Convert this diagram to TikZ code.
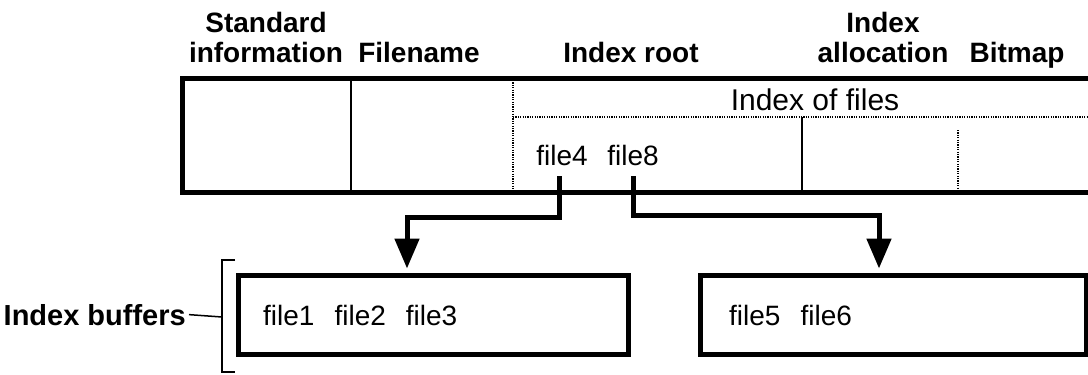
\documentclass[tikz,border=0pt]{standalone}
\usepackage{fontspec}
\setmainfont{Liberation Sans}
\usetikzlibrary{arrows.meta}
\begin{document}
\begin{tikzpicture}[x=1pt,y=-1pt,
  hdr/.style={font=\fontsize{28}{30}\selectfont\bfseries, align=center, inner sep=0pt},
  txt/.style={font=\fontsize{28}{30}\selectfont, inner sep=0pt},
  recbox/.style={draw, line width=5pt, inner sep=0pt},
  bufbox/.style={draw, line width=5pt, inner sep=0pt},
  sepline/.style={line width=1.8pt},
  dotline/.style={line width=1.2pt, dash pattern=on 1.2pt off 1.2pt},
  brk/.style={line width=2.5pt},
  arr/.style={line width=5pt, -{Triangle[length=30pt,width=24pt]}, shorten >=4pt}
]
\useasboundingbox (0,0) rectangle (1088,375);
\clip (0,0) rectangle (1088,375);

% headers
\node[hdr, anchor=north] (hstd) at (266,12) {Standard\\information};
\node[hdr, anchor=base] (hfile) at (419,62) {Filename};
\node[hdr, anchor=base] (hroot) at (631,62) {Index root};
\node[hdr, anchor=north] (halloc) at (883,12) {Index\\allocation};
\node[hdr, anchor=base] (hbit) at (1017,62) {Bitmap};

% record
\node[recbox, minimum width=918pt, minimum height=114pt] (rec) at (641,135) {};
\draw[sepline] (351,78) -- (351,192);
\draw[dotline] (513,80) -- (513,190);
\draw[dotline] (513,117) -- (1088,117);
\draw[sepline] (802,117) -- (802,190);
\draw[dotline] (958,130) -- (958,190);
\node[txt, font=\fontsize{30}{30}\selectfont, anchor=base] (iof) at (815,110) {Index of files};
\node[txt, anchor=base] (f4) at (562,165) {file4};
\node[txt, anchor=base] (f8) at (633,165) {file8};

% buffers
\node[bufbox, minimum width=390pt, minimum height=79pt] (buf1) at (433,314.5) {};
\node[bufbox, minimum width=386pt, minimum height=79pt] (buf2) at (893,314.5) {};
\node[txt, anchor=base west] (t1) at (263,325) {file1\hspace{20pt}file2\hspace{20pt}file3};
\node[txt, anchor=base west] (t2) at (729,325) {file5\hspace{20pt}file6};

% arrows
\coordinate (k1) at (407,217);
\coordinate (k2) at (879,215);
\draw[arr] ([xshift=-3pt,yshift=-11pt]f4.south) |- (k1) -- (k1 |- buf1.north);
\draw[arr] ([yshift=-11pt]f8.south) |- (k2) -- (k2 |- buf2.north);

% index buffers bracket
\draw[brk] (235,260) -- (222,260) -- (222,372) -- (235,372);
\coordinate (bm) at (222,317);
\node[hdr, font=\fontsize{29}{30}\selectfont\bfseries, anchor=base east] (ib) at (186,325) {Index buffers};
\draw[line width=1.5pt] ([xshift=3pt]ib.east) -- (bm);
\end{tikzpicture}
\end{document}
